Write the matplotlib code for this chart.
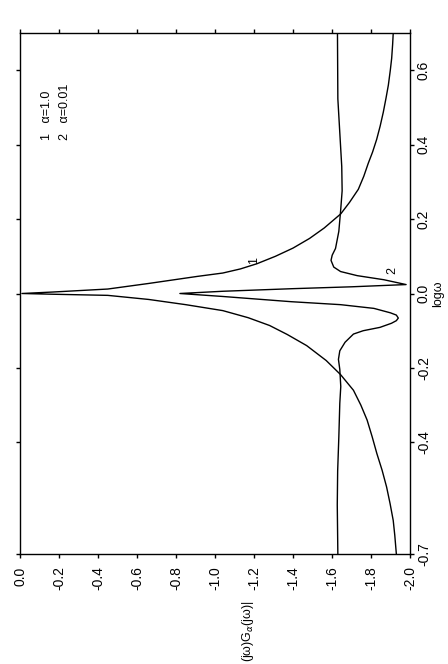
import matplotlib
matplotlib.use('Agg')
from matplotlib import pyplot as plt

plt.rcParams['font.family'] = ['Liberation Sans', 'DejaVu Sans']

# curve 1 (alpha = 1.0): log omega and log magnitude
logw_1 = [-0.70, -0.65, -0.61, -0.565, -0.52, -0.475, -0.43, -0.385, -0.34,
          -0.30, -0.26, -0.218, -0.18, -0.14, -0.11, -0.086, -0.065, -0.046,
          -0.030, -0.016, -0.005, -0.002, 0.0, 0.004, 0.012, 0.027, 0.046, 0.055,
          0.066, 0.08, 0.10, 0.122, 0.148, 0.176, 0.214, 0.245, 0.28, 0.315,
          0.35, 0.38, 0.414, 0.45, 0.487, 0.525, 0.56, 0.60, 0.632, 0.67, 0.70]
mag_1 = [-1.93, -1.922, -1.914, -1.898, -1.88, -1.857, -1.83, -1.806, -1.78,
         -1.748, -1.71, -1.644, -1.57, -1.47, -1.37, -1.28, -1.17, -1.04,
         -0.85, -0.66, -0.45, -0.17, -0.01, -0.17, -0.45, -0.66, -0.91, -1.04,
         -1.13, -1.215, -1.31, -1.40, -1.485, -1.56, -1.645, -1.69, -1.735, -1.763,
         -1.786, -1.808, -1.829, -1.847, -1.863, -1.877, -1.889, -1.899, -1.906, -1.911, -1.914]

# curve 2 (alpha = 0.01)
logw_2 = [-0.70, -0.568, -0.477, -0.386, -0.295, -0.25, -0.204, -0.177, -0.154,
          -0.131, -0.109, -0.100, -0.091, -0.080, -0.073, -0.066, -0.058, -0.052,
          -0.040, -0.030, -0.022, -0.008, 0.0, 0.006, 0.013, 0.018, 0.024, 0.037,
          0.048, 0.059, 0.071, 0.089, 0.103, 0.121, 0.167, 0.221, 0.276, 0.341,
          0.432, 0.523, 0.70]
mag_2 = [-1.63, -1.627, -1.629, -1.635, -1.64, -1.645, -1.64, -1.633, -1.64,
         -1.667, -1.71, -1.76, -1.846, -1.905, -1.93, -1.94, -1.93, -1.90,
         -1.815, -1.644, -1.39, -1.04, -0.82, -1.04, -1.40, -1.70, -1.98, -1.866,
         -1.729, -1.644, -1.609, -1.595, -1.601, -1.618, -1.635, -1.644, -1.652, -1.65,
         -1.64, -1.63, -1.628]

mag_ticks = [0.0, -0.2, -0.4, -0.6, -0.8, -1.0, -1.2, -1.4, -1.6, -1.8, -2.0]
mag_labels = ['0.0', '-0.2', '-0.4', '-0.6', '-0.8', '-1.0', '-1.2', '-1.4', '-1.6', '-1.8', '-2.0']
logw_ticks = [-0.7, -0.4, -0.2, 0.0, 0.2, 0.4, 0.6]
logw_labels = ['-0.7', '-0.4', '-0.2', '0.0', '0.2', '0.4', '0.6']

fig = plt.figure(figsize=(4.48, 6.64), dpi=100)
ax = fig.add_axes([20/448, 1 - 554/664, 390/448, 521/664])

ax.plot(mag_1, logw_1, color='black', lw=1.0)
ax.plot(mag_2, logw_2, color='black', lw=1.0)

ax.set_xlim(0.0, -2.0)
ax.set_ylim(-0.7, 0.7)

ax.set_xticks(mag_ticks)
ax.set_xticklabels(mag_labels, rotation=90)
ax.tick_params(axis='x', direction='out', top=True, bottom=True, length=3, width=1,
               pad=6, labelsize=10)

ax.yaxis.tick_right()
ax.set_yticks(logw_ticks)
ax.set_yticklabels(logw_labels, rotation=90, va='center')
ax.tick_params(axis='y', direction='out', left=True, right=True, labelleft=False,
               labelright=True, length=3, width=1, pad=2, labelsize=10)

ax.yaxis.set_label_position('right')
ax.set_ylabel('logω', rotation=90, fontsize=9, labelpad=1)

for s in ax.spines.values():
    s.set_linewidth(1.0)

# legend and curve labels
ax.text(-0.138, 0.412, '1   α=1.0', rotation=90, ha='center', va='bottom', fontsize=9)
ax.text(-0.231, 0.412, '2   α=0.01', rotation=90, ha='center', va='bottom', fontsize=9)
ax.text(-1.20, 0.088, '1', rotation=90, ha='center', va='center', fontsize=9)
ax.text(-1.908, 0.063, '2', rotation=90, ha='center', va='center', fontsize=9)

ax.text(0.585, -0.088, '(jω)G$_\\alpha$(jω)|', transform=ax.transAxes, rotation=90,
        ha='center', va='top', fontsize=9)

fig.savefig('out.png', dpi=100)
